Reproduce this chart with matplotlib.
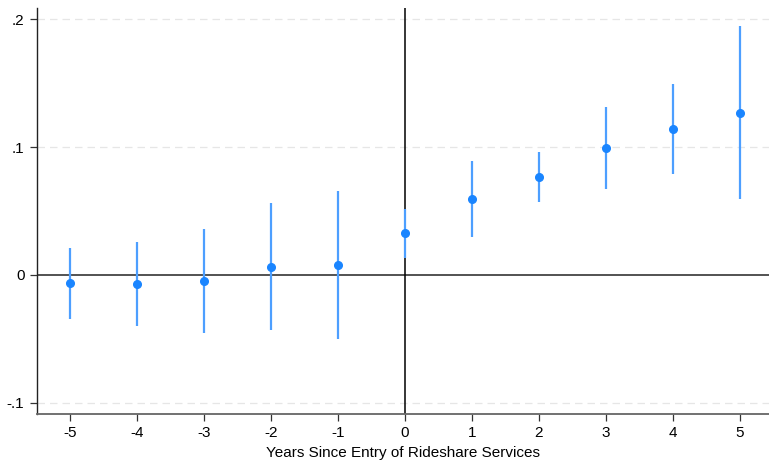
import matplotlib
matplotlib.use("Agg")
import matplotlib.pyplot as plt
from matplotlib import font_manager

# Event-study estimates: years relative to rideshare entry
years = [-5, -4, -3, -2, -1, 0, 1, 2, 3, 4, 5]
coef = [-0.0065, -0.0068, -0.0047, 0.0065, 0.0080, 0.0326, 0.0594, 0.0766, 0.0995, 0.1140, 0.1268]
ci_low = [-0.0341, -0.0398, -0.0456, -0.0432, -0.0500, 0.0135, 0.0294, 0.0570, 0.0674, 0.0789, 0.0590]
ci_high = [0.0209, 0.0260, 0.0360, 0.0560, 0.0660, 0.0516, 0.0890, 0.0960, 0.1310, 0.1490, 0.1945]

ytick_vals = [-0.1, 0, 0.1, 0.2]
ytick_labels = ["-.1", "0", ".1", ".2"]
xlabel = "Years Since Entry of Rideshare Services"

available = {f.name for f in font_manager.fontManager.ttflist}
family = ["Liberation Sans Narrow"] if "Liberation Sans Narrow" in available else ["Liberation Sans"]
plt.rcParams["font.family"] = family + ["DejaVu Sans"]

fig = plt.figure(figsize=(7.69, 4.61), dpi=100)
ax = fig.add_axes([0.0481, 0.102, 0.9519, 0.8806])

ax.set_xlim(-5.5, 5.44)
ax.set_ylim(-0.1086, 0.2086)

for yv in ytick_vals:
    if yv != 0:
        ax.axhline(yv, color="#e6e6e6", lw=0.9, ls=(0, (6, 4)), zorder=0)

ax.axhline(0, color="#444444", lw=1.3, zorder=1)
ax.axvline(0, color="black", lw=1.1, zorder=1)

ax.vlines(years, ci_low, ci_high, color="#4d9fff", lw=1.6, zorder=2)
ax.plot(years, coef, "o", color="#1a85ff", ms=5.5, mec="#1a85ff", zorder=3)

ax.set_xticks(years)
ax.set_xticklabels([str(v) for v in years])
ax.set_yticks(ytick_vals)
ax.set_yticklabels(ytick_labels)
ax.tick_params(axis="both", labelsize=11, length=5, width=0.9, color="#333333", pad=4)
ax.set_xlabel(xlabel, fontsize=11, labelpad=4)

for s in ["top", "right"]:
    ax.spines[s].set_visible(False)
ax.spines["left"].set_color("#222222")
ax.spines["left"].set_linewidth(1.0)
ax.spines["bottom"].set_color("#666666")
ax.spines["bottom"].set_linewidth(1.3)

fig.savefig("out.png", dpi=100)
